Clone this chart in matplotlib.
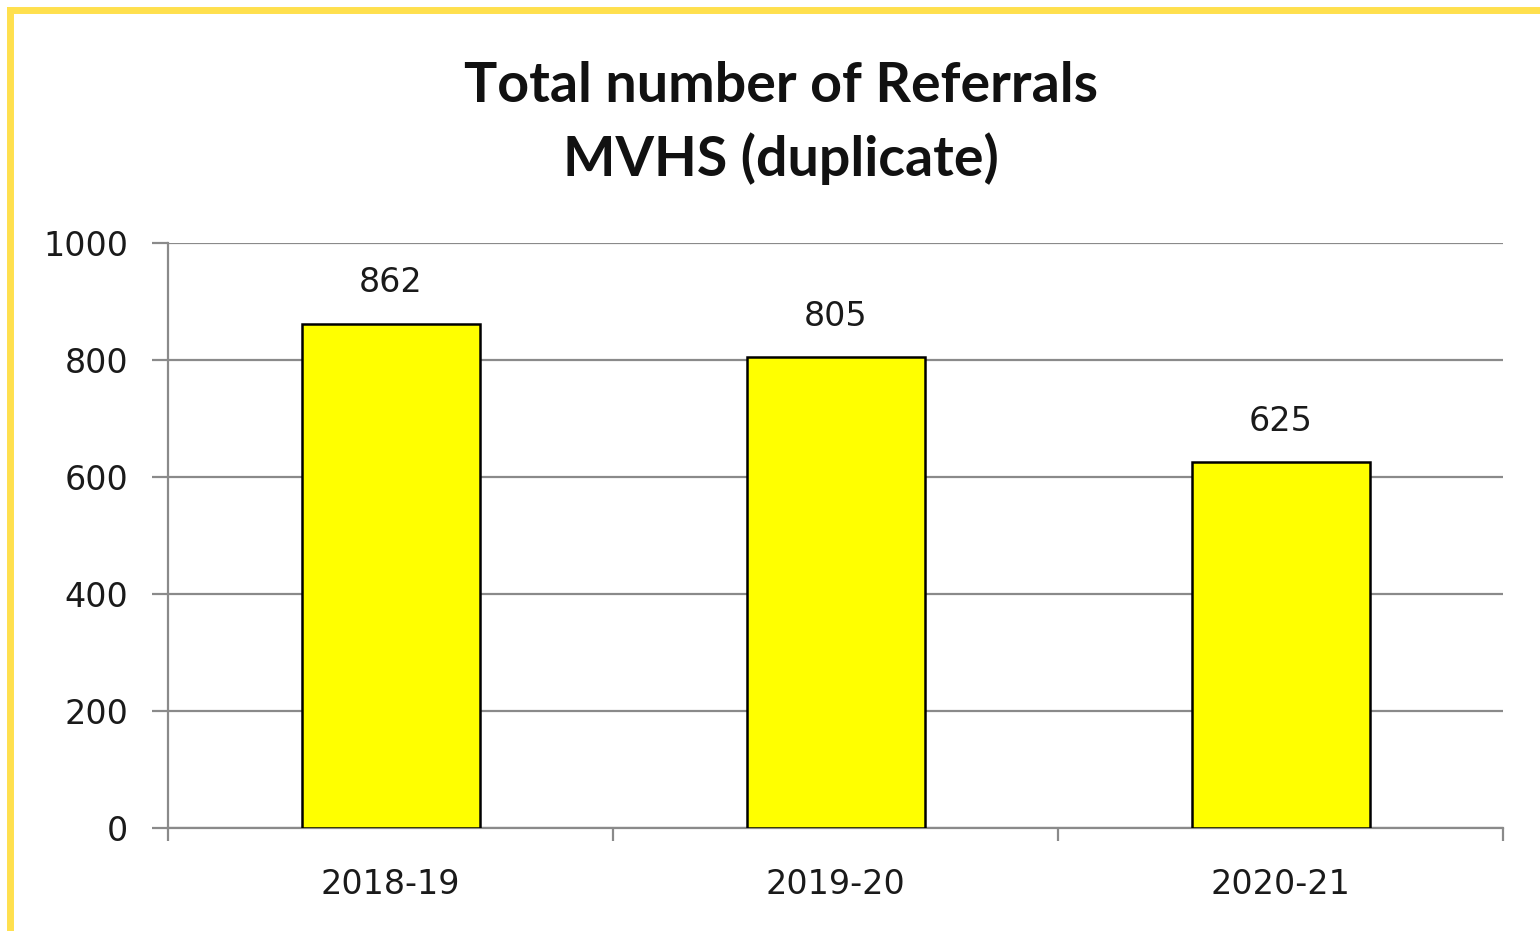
import matplotlib.pyplot as plt
from matplotlib.lines import Line2D

years = ["2018-19", "2019-20", "2020-21"]
referrals = [862, 805, 625]
y_ticks = [0, 200, 400, 600, 800, 1000]

W, H = 1540, 931
fig = plt.figure(figsize=(W / 100, H / 100), dpi=100)
fig.patch.set_facecolor("white")

# plot area in pixel terms -> figure fractions
left, right, top, bottom = 168, 1503, 243, 828
ax = fig.add_axes([left / W, 1 - bottom / H, (right - left) / W, (bottom - top) / H])

x = list(range(len(years)))
ax.bar(x, referrals, width=0.4, color="#FFFF00", edgecolor="black", linewidth=1.8, zorder=3)

for xi, v in zip(x, referrals):
    ax.annotate(str(v), (xi, v), xytext=(0, 41), textcoords="offset pixels",
                ha="center", va="center", fontsize=24, family="DejaVu Sans", color="#1a1a1a")

ax.set_xlim(-0.5, len(years) - 0.5)
ax.set_ylim(0, 1000)
ax.set_yticks(y_ticks)
ax.set_yticklabels([str(t) for t in y_ticks], fontsize=24, color="#1a1a1a")
ax.yaxis.grid(True, color="#8a8a8a", linewidth=1.6, zorder=0)
ax.tick_params(axis="y", length=11.5, width=1.6, color="#8a8a8a", pad=17)

# category ticks sit between the groups, labels sit under each bar
ax.set_xticks([i - 0.5 for i in range(len(years) + 1)])
ax.set_xticklabels([])
ax.set_xticks(x, minor=True)
ax.set_xticklabels(years, minor=True, fontsize=24, color="#1a1a1a")
ax.tick_params(axis="x", which="major", length=9, width=1.6, color="#8a8a8a", direction="out")
ax.tick_params(axis="x", which="minor", length=0, pad=29)

for s in ["top", "right"]:
    ax.spines[s].set_visible(False)
for s in ["left", "bottom"]:
    ax.spines[s].set_color("#8a8a8a")
    ax.spines[s].set_linewidth(1.6)

fig.text(781 / W, 1 - 123 / H, "Total number of Referrals\nMVHS (duplicate)",
         ha="center", va="center", fontsize=40, fontweight="bold", family="Lato",
         linespacing=1.5, color="#111111")

# yellow frame along the top and left edges
frame = "#FFE04E"
fig.add_artist(Line2D([10 / W, 10 / W], [0, 1 - 10 / H], transform=fig.transFigure,
                      color=frame, linewidth=5, solid_capstyle="projecting"))
fig.add_artist(Line2D([10 / W, 1], [1 - 10 / H, 1 - 10 / H], transform=fig.transFigure,
                      color=frame, linewidth=5, solid_capstyle="projecting"))

fig.savefig("out.png", dpi=100)
